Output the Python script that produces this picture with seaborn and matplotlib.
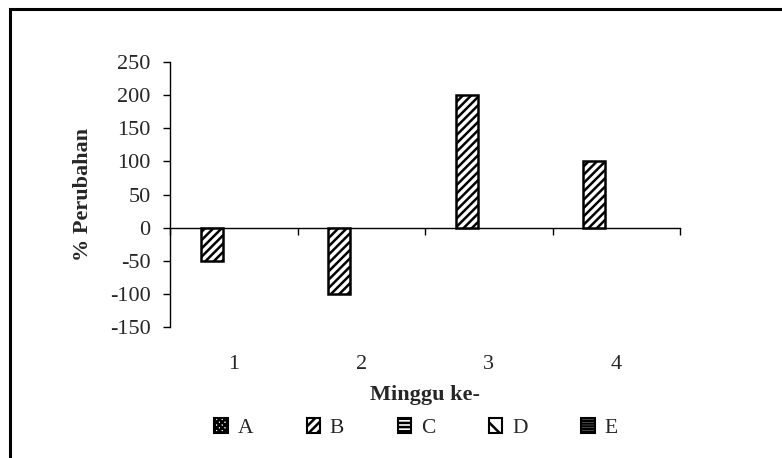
import matplotlib
matplotlib.use("Agg")
import matplotlib.pyplot as plt
from matplotlib.patches import Patch, Rectangle
import numpy as np
import pandas as pd
import seaborn as sns

# Data: weekly % change for series A-E
weeks = ["1", "2", "3", "4"]
series = ["A", "B", "C", "D", "E"]
vals_A = [0, 0, 0, 0]
vals_B = [-50, -100, 200, 100]
vals_C = [0, 0, 0, 0]
vals_D = [0, 0, 0, 0]
vals_E = [0, 0, 0, 0]
yticks = [-150, -100, -50, 0, 50, 100, 150, 200, 250]

hatches = {"A": "xxxxxx", "B": "////", "C": "----", "D": "\\", "E": "------"}

rows = []
for s, vals in zip(series, [vals_A, vals_B, vals_C, vals_D, vals_E]):
    for w, v in zip(weeks, vals):
        rows.append({"Minggu": w, "Perubahan": v, "Seri": s})
df = pd.DataFrame(rows)

sns.set_style("white")
plt.rcParams["font.family"] = ["Liberation Serif", "DejaVu Serif"]
plt.rcParams["hatch.linewidth"] = 1.8
plt.rcParams["hatch.color"] = "black"

fig = plt.figure(figsize=(7.82, 4.58), dpi=100)
ax = fig.add_axes([170 / 782, 1 - 327 / 458, 510 / 782, 265 / 458])

sns.barplot(data=df, x="Minggu", y="Perubahan", hue="Seri",
            order=weeks, hue_order=series,
            palette={s: "white" for s in series},
            edgecolor="black", linewidth=1.8, width=0.866,
            errorbar=None, legend=False, ax=ax, zorder=3)

for cont, s in zip(ax.containers, series):
    for p in cont.patches:
        p.set_hatch(hatches[s])
        if p.get_height() == 0:
            p.set_linewidth(0)

ax.set_xlim(-0.5, len(weeks) - 0.5)
ax.set_ylim(yticks[0], yticks[-1])
ax.set_yticks(yticks)
ax.set_yticklabels([str(t) for t in yticks])

# Spines: left axis and the zero line
for side in ["top", "right"]:
    ax.spines[side].set_visible(False)
ax.spines["bottom"].set_position(("data", 0))
for side in ["bottom", "left"]:
    ax.spines[side].set_linewidth(1.0)
    ax.spines[side].set_color("black")

# Category boundary ticks on the zero line
ax.set_xticks(np.arange(len(weeks) + 1) - 0.5)
ax.set_xticklabels([])
ax.tick_params(axis="x", bottom=True, direction="out", length=5, width=1,
               color="black")
ax.tick_params(axis="y", left=True, direction="out", length=5, width=1,
               color="black", labelsize=16, pad=9)
ax.set_xlabel("")

# Category labels along the bottom of the plot area
sec = ax.secondary_xaxis(0)
sec.set_xticks(range(len(weeks)))
sec.set_xticklabels(weeks)
sec.tick_params(length=0, labelsize=16, pad=20)
sec.spines["bottom"].set_visible(False)
sec.set_xlabel("Minggu ke-", fontsize=16, fontweight="bold", labelpad=8)

ax.set_ylabel("% Perubahan", fontsize=16, fontweight="bold")
ax.yaxis.set_label_coords(-0.151, 0.5)

handles = [Patch(facecolor="white", edgecolor="black", hatch=hatches[s],
                 linewidth=1.5, label=s) for s in series]
fig.legend(handles=handles, loc="center", ncol=5,
           bbox_to_anchor=(416 / 782, 1 - 428 / 458),
           frameon=False, fontsize=15.5, handlelength=0.62,
           handleheight=0.66, handletextpad=0.45, columnspacing=2.5)

# Outer frame of the figure
fig.patches.append(Rectangle((10 / 782, -0.1), 1.2, 1 - 9 / 458 + 0.1,
                             transform=fig.transFigure, fill=False,
                             edgecolor="black", linewidth=2.2))

fig.savefig("out.png", dpi=100)
